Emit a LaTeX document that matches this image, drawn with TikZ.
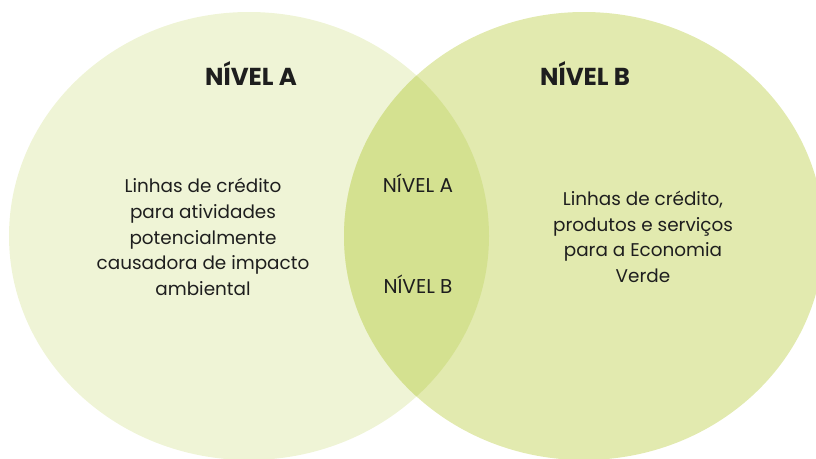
\documentclass[tikz,border=0pt]{standalone}
\usepackage{fontspec}
\setmainfont{Poppins}
\usetikzlibrary{positioning}

\definecolor{nivelAfill}{HTML}{EFF4D6}
\definecolor{nivelBfill}{HTML}{E2EAAF}
\definecolor{overlapfill}{HTML}{D4E190}
\definecolor{textgray}{HTML}{1E1E1E}

\tikzset{
  setA/.style={fill=nivelAfill},
  setB/.style={fill=nivelBfill},
  title/.style={font=\bfseries\fontsize{24.5}{28}\selectfont, text=textgray},
  body/.style={font=\fontsize{18.4}{25.7}\selectfont, align=center, text=textgray},
  mid/.style={font=\fontsize{20}{24}\selectfont, text=textgray}
}

\begin{document}
\begin{tikzpicture}[x=1pt,y=-1pt]
	\useasboundingbox (0,0) rectangle (816,458);
	\fill[setA] (249,236) ellipse [x radius=240pt, y radius=224pt];
	\fill[setB] (584,236) ellipse [x radius=240pt, y radius=224pt];
	\begin{scope}
		\clip (249,236) ellipse [x radius=240pt, y radius=224pt];
		\fill[overlapfill] (584,236) ellipse [x radius=240pt, y radius=224pt];
	\end{scope}
	\node[title] (titleA) at (251,74) {NÍVEL A};
	\node[title] (titleB) at (585,74) {NÍVEL B};
	\node[body] (textA) at (203,237) {Linhas de crédito\\para atividades\\potencialmente\\causadora de impacto\\ambiental};
	\node[body] (textB) at (643,237) {Linhas de crédito,\\produtos e serviços\\para a Economia\\Verde};
	\node[mid] (midA) at (418,183) {NÍVEL A};
	\node[mid] (midB) at (418,284) {NÍVEL B};
\end{tikzpicture}
\end{document}
